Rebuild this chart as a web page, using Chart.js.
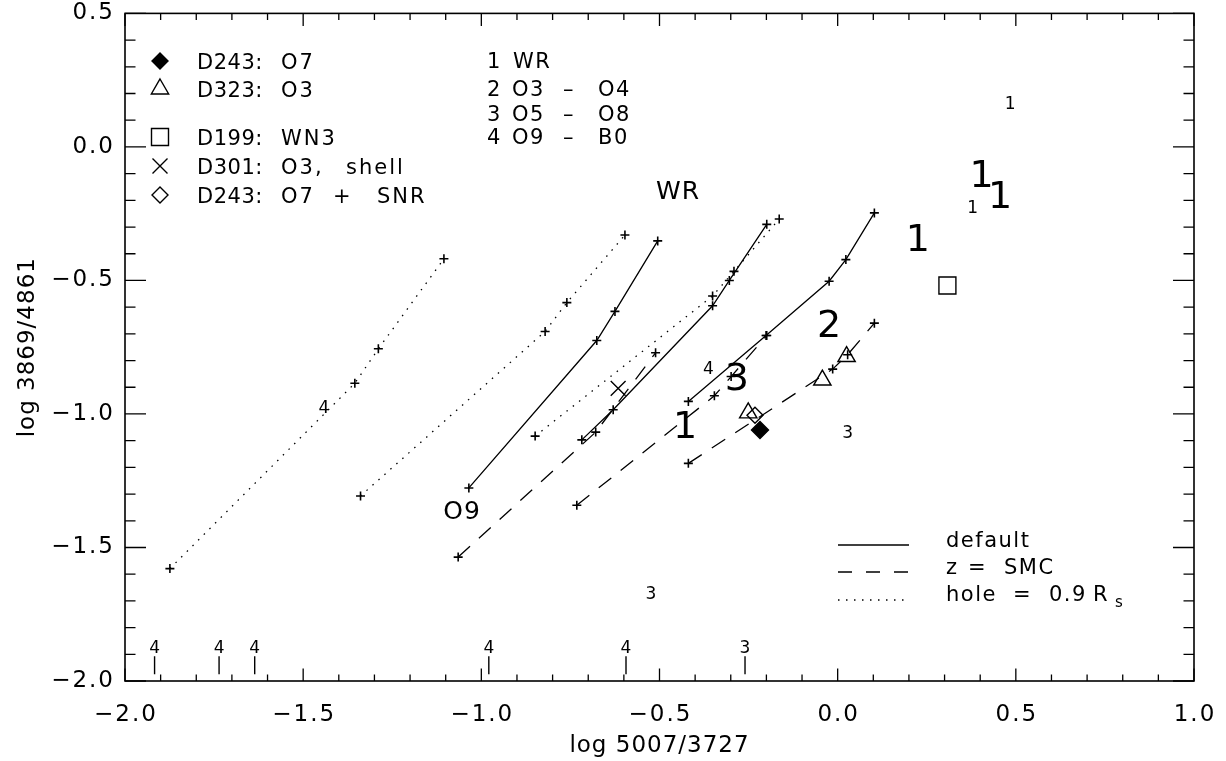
<!DOCTYPE html>
<html>
<head>
<meta charset="utf-8">
<script src="https://cdn.jsdelivr.net/npm/chart.js@4.4.1/dist/chart.umd.min.js"></script>
<style>
  html, body { margin: 0; padding: 0; background: #fff; }
  canvas { display: block; }
</style>
</head>
<body>
<canvas id="diag" width="1226" height="761"></canvas>
<script>
// axis ticks
const xTickValues = [-2.0, -1.5, -1.0, -0.5, 0.0, 0.5, 1.0];
const xTickLabels = ["\u22122.0", "\u22121.5", "\u22121.0", "\u22120.5", "0.0", "0.5", "1.0"];
const yTickValues = [-2.0, -1.5, -1.0, -0.5, 0.0, 0.5];
const yTickLabels = ["\u22122.0", "\u22121.5", "\u22121.0", "\u22120.5", "0.0", "0.5"];

// model sequences: default (solid)
const defaultA = [[-1.035, -1.277], [-0.676, -0.725], [-0.625, -0.616], [-0.505, -0.352]];
const defaultB = [[-0.718, -1.097], [-0.630, -0.984], [-0.351, -0.595], [-0.304, -0.500], [-0.199, -0.290]];
const defaultC = [[-0.419, -0.953], [-0.201, -0.706], [-0.024, -0.503], [0.023, -0.422], [0.103, -0.247]];
// z = SMC (dashed)
const smcA = [[-1.065, -1.536], [-0.679, -1.068], [-0.511, -0.771]];
const smcB = [[-0.732, -1.342], [-0.346, -0.932], [-0.299, -0.860], [-0.199, -0.706]];
const smcC = [[-0.419, -1.185], [-0.014, -0.832], [0.028, -0.778], [0.103, -0.660]];
// hole = 0.9 Rs (dotted)
const holeA = [[-1.874, -1.579], [-1.355, -0.885], [-1.289, -0.756], [-1.105, -0.419]];
const holeB = [[-1.339, -1.307], [-0.821, -0.691], [-0.760, -0.583], [-0.597, -0.330]];
const holeC = [[-0.849, -1.083], [-0.351, -0.558], [-0.291, -0.466], [-0.164, -0.270]];

// observed nebulae
const d243 = [[-0.218, -1.060]];
const d323 = [[-0.251, -0.996], [-0.043, -0.873], [0.025, -0.785]];
const d199 = [[0.308, -0.519]];
const d301 = [[-0.616, -0.904]];
const d243snr = [[-0.232, -1.005]];

// upper limits along the bottom
const limitX = [-1.917, -1.736, -1.636, -0.979, -0.594, -0.260];
const limitLabels = ["4", "4", "4", "4", "4", "3"];
const limitY = -1.941;
const limitLabelY = -1.878;

// spectral class numbers in the plane
const bigLabels = [["1", -0.428, -1.052], ["3", -0.283, -0.873], ["2", -0.024, -0.675],
                   ["1", 0.225, -0.351], ["1", 0.404, -0.114], ["1", 0.456, -0.190]];
const smallLabels = [["1", 0.484, 0.158], ["1", 0.379, -0.231], ["4", -0.363, -0.832],
                     ["3", 0.028, -1.073], ["3", -0.524, -1.678], ["4", -1.442, -0.981]];
const midLabels = [["O9", -1.054, -1.370], ["WR", -0.448, -0.170]];

const FONT = "'DejaVu Sans', sans-serif";

function pts(arr) {
    return arr.map((p) => ({ x: p[0], y: p[1] }));
}

function model(arr, dash) {
    return {
        data: pts(arr),
        showLine: true,
        borderColor: "#000",
        borderWidth: 1.3,
        borderDash: dash,
        pointStyle: "cross",
        pointRadius: 4.5,
        pointBorderWidth: 1.6,
        pointBorderColor: "#000",
        pointBackgroundColor: "#000",
        tension: 0,
    };
}

function marker(arr, style, r, fill) {
    return {
        data: pts(arr),
        showLine: false,
        pointStyle: style,
        pointRadius: r,
        pointBorderWidth: 1.4,
        pointBorderColor: "#000",
        pointBackgroundColor: fill ? "#000" : "rgba(0,0,0,0)",
    };
}

const DASH = [16, 12];
const DOT = [1.5, 6.5];

const datasets = [
    model(defaultA, []), model(defaultB, []), model(defaultC, []),
    model(smcA, DASH), model(smcB, DASH), model(smcC, DASH),
    model(holeA, DOT), model(holeB, DOT), model(holeC, DOT),
    marker(d243, "rectRot", 8.5, true),
    marker(d323, "triangle", 10, false),
    marker(d199, "rect", 12, false),
    marker(d301, "crossRot", 10.5, false),
    marker(d243snr, "rectRot", 8, false),
    {
        data: limitX.map((v) => ({ x: v, y: limitY })),
        showLine: false,
        pointStyle: "line",
        pointRotation: 90,
        pointRadius: 9,
        pointBorderWidth: 1.4,
        pointBorderColor: "#000",
    },
];

function sym(ctx, kind, x, y) {
    ctx.save();
    ctx.lineWidth = 1.4;
    ctx.strokeStyle = "#000";
    ctx.fillStyle = "#000";
    ctx.beginPath();
    if (kind === "diamondFill" || kind === "diamond") {
        const r = 8;
        ctx.moveTo(x, y - r); ctx.lineTo(x + r, y); ctx.lineTo(x, y + r); ctx.lineTo(x - r, y); ctx.closePath();
        if (kind === "diamondFill") ctx.fill();
        ctx.stroke();
    } else if (kind === "triangle") {
        ctx.moveTo(x, y - 10); ctx.lineTo(x + 8.66, y + 5); ctx.lineTo(x - 8.66, y + 5); ctx.closePath();
        ctx.stroke();
    } else if (kind === "square") {
        ctx.rect(x - 8.5, y - 8.5, 17, 17);
        ctx.stroke();
    } else if (kind === "x") {
        ctx.moveTo(x - 7.5, y - 7.5); ctx.lineTo(x + 7.5, y + 7.5);
        ctx.moveTo(x + 7.5, y - 7.5); ctx.lineTo(x - 7.5, y + 7.5);
        ctx.stroke();
    }
    ctx.restore();
}

// words of a key line, each put at its own x
function words(ctx, list, y) {
    list.forEach((w) => ctx.fillText(w[0], w[1], y));
}

const framePlugin = {
    id: "frame",
    afterDraw(chart) {
        const { ctx, chartArea: a } = chart;
        const xs = chart.scales.x, ys = chart.scales.y;
        ctx.save();
        ctx.strokeStyle = "#000";
        ctx.fillStyle = "#000";

        // frame
        ctx.lineWidth = 1.6;
        ctx.strokeRect(a.left, a.top, a.right - a.left, a.bottom - a.top);

        // ticks (inward, all sides)
        ctx.lineWidth = 1.3;
        ctx.beginPath();
        for (let i = 0; i <= 30; i++) {
            const px = xs.getPixelForValue(-2 + i * 0.1);
            const len = i % 5 === 0 ? 12.5 : 6.5;
            ctx.moveTo(px, a.bottom); ctx.lineTo(px, a.bottom - len);
            ctx.moveTo(px, a.top); ctx.lineTo(px, a.top + len);
        }
        for (let i = 0; i <= 25; i++) {
            const py = ys.getPixelForValue(-2 + i * 0.1);
            const len = i % 5 === 0 ? 21 : 10.5;
            ctx.moveTo(a.left, py); ctx.lineTo(a.left + len, py);
            ctx.moveTo(a.right, py); ctx.lineTo(a.right - len, py);
        }
        ctx.stroke();

        // tick labels
        ctx.font = "23px " + FONT;
        ctx.letterSpacing = "2px";
        ctx.textAlign = "center";
        ctx.textBaseline = "alphabetic";
        xTickValues.forEach((v, i) => {
            ctx.fillText(xTickLabels[i], xs.getPixelForValue(v) + 1, 721);
        });
        ctx.textAlign = "right";
        ctx.textBaseline = "middle";
        yTickValues.forEach((v, i) => {
            ctx.fillText(yTickLabels[i], a.left - 10, ys.getPixelForValue(v));
        });

        // axis titles
        ctx.letterSpacing = "1px";
        ctx.textAlign = "center";
        ctx.textBaseline = "alphabetic";
        ctx.fillText("log 5007/3727", (a.left + a.right) / 2, 752);
        ctx.save();
        ctx.translate(34, (a.top + a.bottom) / 2);
        ctx.rotate(-Math.PI / 2);
        ctx.fillText("log 3869/4861", 0, 0);
        ctx.restore();
        ctx.letterSpacing = "0px";

        // labels inside the plot
        ctx.textBaseline = "middle";
        ctx.font = "38px " + FONT;
        bigLabels.forEach((l) => ctx.fillText(l[0], xs.getPixelForValue(l[1]), ys.getPixelForValue(l[2])));
        ctx.font = "17px " + FONT;
        smallLabels.forEach((l) => ctx.fillText(l[0], xs.getPixelForValue(l[1]), ys.getPixelForValue(l[2])));
        limitX.forEach((v, i) => ctx.fillText(limitLabels[i], xs.getPixelForValue(v), ys.getPixelForValue(limitLabelY)));
        ctx.font = "25px " + FONT;
        ctx.letterSpacing = "1px";
        midLabels.forEach((l) => ctx.fillText(l[0], xs.getPixelForValue(l[1]), ys.getPixelForValue(l[2])));

        // symbol key (top left)
        ctx.font = "21px " + FONT;
        ctx.textAlign = "left";
        ctx.textBaseline = "alphabetic";
        const key = [
            ["diamondFill", 61, "D243:", [["O7", 281]]],
            ["triangle", 89, "D323:", [["O3", 281]]],
            ["square", 137, "D199:", [["WN3", 281]]],
            ["x", 166, "D301:", [["O3,", 281], ["shell", 346]]],
            ["diamond", 195, "D243:", [["O7", 281], ["+", 333], ["SNR", 377]]],
        ];
        key.forEach((k) => {
            sym(ctx, k[0], 160, k[1]);
            ctx.letterSpacing = "0.5px";
            ctx.fillText(k[2], 197, k[1] + 7.5);
            ctx.letterSpacing = "2px";
            words(ctx, k[3], k[1] + 7.5);
        });

        // class key (top middle)
        ctx.letterSpacing = "1.5px";
        words(ctx, [["1", 487], ["WR", 513]], 68);
        words(ctx, [["2", 487], ["O3", 512], ["\u2013", 563], ["O4", 598]], 96);
        words(ctx, [["3", 487], ["O5", 512], ["\u2013", 563], ["O8", 598]], 121);
        words(ctx, [["4", 487], ["O9", 512], ["\u2013", 563], ["B0", 598]], 144);

        // line style key (bottom right)
        const dashes = [[], [14, 14], [1.5, 6.5]];
        const rows = [545, 572, 600];
        ctx.lineWidth = 1.3;
        rows.forEach((y, i) => {
            ctx.save();
            ctx.setLineDash(dashes[i]);
            ctx.beginPath();
            ctx.moveTo(838, y);
            ctx.lineTo(909, y);
            ctx.stroke();
            ctx.restore();
        });
        words(ctx, [["default", 946]], 547);
        words(ctx, [["z", 946], ["=", 968], ["SMC", 1004]], 574);
        words(ctx, [["hole", 946], ["=", 1013], ["0.9", 1049], ["R", 1093]], 601);
        ctx.font = "15px " + FONT;
        ctx.fillText("s", 1115, 607);

        ctx.restore();
    },
};

new Chart(document.getElementById("diag").getContext("2d"), {
    type: "scatter",
    data: { datasets },
    options: {
        responsive: false,
        animation: false,
        devicePixelRatio: 1,
        layout: { padding: { left: 125, right: 32, top: 6, bottom: 80 } },
        scales: {
            x: { type: "linear", min: -2, max: 1, display: false },
            y: { type: "linear", min: -2, max: 0.5, display: false },
        },
        plugins: {
            legend: { display: false },
            tooltip: { enabled: false },
        },
    },
    plugins: [framePlugin],
});
</script>
</body>
</html>
